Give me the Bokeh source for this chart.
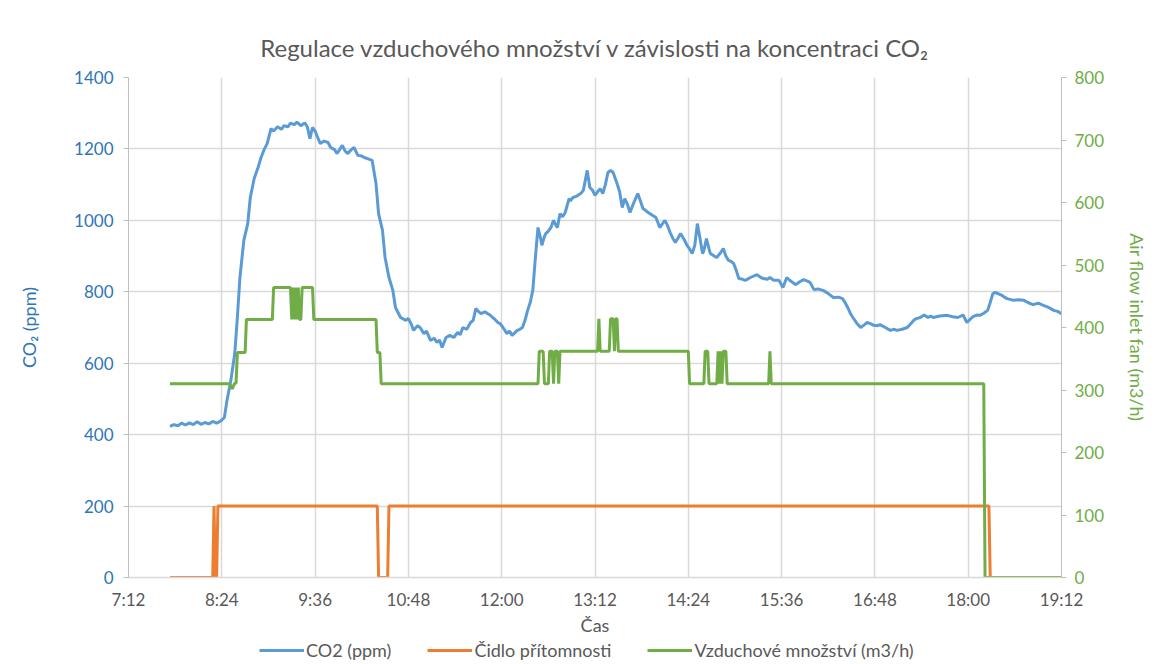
from bokeh.plotting import figure
from bokeh.models import Range1d, LinearAxis, FixedTicker, Legend, LegendItem
from bokeh.layouts import column
from bokeh.embed import file_html
from bokeh.resources import INLINE

# ---------------- data ----------------
title_text = "Regulace vzduchového množství v závislosti na koncentraci CO₂"
x_tick_minutes = [432, 504, 576, 648, 720, 792, 864, 936, 1008, 1080, 1152]
x_tick_labels = ["7:12", "8:24", "9:36", "10:48", "12:00", "13:12", "14:24",
                 "15:36", "16:48", "18:00", "19:12"]

# CO2 concentration (ppm), time in minutes after midnight
co2_minutes = [464, 467, 470, 473, 476, 479, 482, 485, 488, 491, 494, 497, 500, 503,
               506, 508, 511, 514, 516, 518, 521, 524, 526, 529, 532, 534, 537, 539,
               542, 544, 547, 550, 552, 555, 557, 560, 562, 565, 568, 570, 572, 574,
               576, 578, 580, 583, 586, 588, 591, 593, 597, 599, 601, 604, 606, 609,
               612, 614, 617, 620, 623, 625, 628, 630, 633, 636, 638, 642, 646, 648,
               650, 652, 655, 657, 660, 662, 665, 668, 670, 672, 674, 677, 680, 683,
               686, 688, 690, 693, 696, 698, 700, 702, 704, 707, 709, 711, 713, 715,
               717, 719, 721, 724, 726, 728, 730, 732, 734, 736, 738, 740, 742, 744,
               746, 748, 750, 751, 753, 754, 756, 758, 760, 762, 763, 765, 767, 769,
               772, 773, 775, 778, 781, 783, 786, 788, 790, 792, 794, 796, 798, 800,
               802, 804, 806, 809, 811, 813, 815, 817, 819, 822, 825, 827, 829, 831,
               833, 836, 839, 842, 844, 846, 848, 850, 852, 854, 856, 858, 861, 863,
               865, 867, 869, 871, 873, 875, 876, 878, 880, 881, 884, 886, 889, 891,
               893, 895, 897, 899, 901, 903, 906, 908, 912, 917, 920, 922, 925, 927,
               930, 934, 937, 940, 943, 947, 950, 953, 956, 958, 961, 964, 968, 972,
               976, 980, 983, 985, 987, 989, 991, 994, 997, 1000, 1002, 1005, 1007,
               1010, 1012, 1016, 1020, 1023, 1025, 1029, 1033, 1036, 1038, 1040, 1043,
               1046, 1049, 1051, 1053, 1058, 1064, 1068, 1072, 1076, 1079, 1082, 1084,
               1087, 1089, 1092, 1095, 1097, 1099, 1101, 1103, 1106, 1108, 1110, 1113,
               1115, 1119, 1123, 1126, 1130, 1134, 1138, 1141, 1144, 1146, 1149, 1152]
co2_ppm = [423, 428, 425, 432, 427, 433, 428, 436, 429, 434, 430, 437, 432, 438,
           448, 496, 552, 627, 728, 840, 944, 991, 1064, 1117, 1148, 1173, 1201, 1215,
           1257, 1250, 1262, 1255, 1265, 1262, 1272, 1268, 1275, 1265, 1273, 1262, 1229, 1260,
           1250, 1232, 1215, 1222, 1218, 1204, 1198, 1187, 1210, 1195, 1187, 1198, 1204, 1182,
           1180, 1176, 1172, 1168, 1103, 1019, 972, 896, 840, 804, 756, 728, 720, 725,
           711, 692, 705, 700, 683, 690, 664, 670, 658, 665, 644, 672, 678, 672,
           686, 680, 700, 695, 714, 720, 753, 745, 739, 744, 739, 735, 728, 722,
           714, 710, 700, 683, 690, 678, 685, 692, 695, 700, 720, 748, 770, 804,
           896, 980, 950, 930, 955, 963, 970, 980, 1000, 985, 980, 1019, 1010, 1022,
           1061, 1055, 1064, 1068, 1075, 1084, 1140, 1092, 1085, 1070, 1080, 1089, 1075, 1100,
           1134, 1140, 1134, 1103, 1080, 1036, 1061, 1045, 1022, 1050, 1075, 1055, 1033, 1028,
           1022, 1015, 1008, 980, 990, 1000, 985, 966, 950, 938, 950, 963, 945, 930,
           920, 907, 930, 991, 950, 907, 915, 949, 920, 907, 900, 896, 910, 921,
           900, 888, 885, 879, 860, 837, 835, 832, 840, 848, 840, 837, 835, 840,
           832, 832, 812, 840, 830, 820, 828, 834, 830, 826, 806, 808, 804, 795,
           784, 785, 781, 770, 756, 740, 728, 712, 700, 708, 714, 710, 706,
           705, 708, 700, 692, 695, 692, 695, 700, 712, 720, 725, 728,
           735, 728, 732, 728, 732, 734, 730, 728, 735, 714, 725, 731,
           735, 734, 740, 748, 770, 795, 798, 795, 790, 785, 781, 778,
           776, 778, 776, 770, 764, 768, 762, 758, 752, 748, 745, 739]

# presence sensor (left axis scale)
presence_minutes = [464, 497, 498, 499, 500, 501, 624, 625, 632, 633, 1096, 1097, 1152]
presence_value = [0, 0, 200, 0, 0, 200, 200, 0, 0, 200, 200, 0, 0]

# air flow (m3/h), right axis
air_minutes = [464, 510, 512, 514, 515, 516, 522, 523, 543, 544, 557, 558, 559, 560,
               561, 562, 563, 564, 565, 566, 574, 575, 623, 624, 626, 627, 748, 749,
               752, 753, 756, 757, 759, 760, 761, 763, 764, 765, 794, 795, 796, 803,
               804, 806, 807, 808, 809, 810, 864, 865, 876, 877, 879, 880, 886, 887,
               888, 889, 890, 891, 893, 894, 926, 927, 928, 1092, 1093, 1152]
air_flow = [310, 310, 302, 311, 311, 360, 360, 413, 413, 464, 464, 413, 464, 413,
            464, 413, 464, 413, 413, 464, 464, 413, 413, 360, 360, 310, 310, 362,
            362, 310, 310, 362, 362, 310, 362, 362, 310, 362, 362, 414, 362, 362,
            414, 414, 362, 414, 414, 362, 362, 310, 310, 362, 362, 310, 310, 362,
            310, 362, 310, 362, 362, 310, 310, 362, 310, 310, 0, 0]

legend_labels = ["CO2 (ppm)", "Čidlo přítomnosti", "Vzduchové množství (m3/h)"]

# ---------------- style ----------------
FONT = "Lato"
GREY = "#595959"
BLUE_TXT = "#2E75B6"
GREEN_TXT = "#70AD47"
C_BLUE = "#5B9BD5"
C_ORANGE = "#ED7D31"
C_GREEN = "#70AD47"
GRID = "#d9d9d9"

p = figure(width=1167, height=638, output_backend="svg", toolbar_location=None,
           x_range=Range1d(432, 1152), y_range=Range1d(0, 1400),
           min_border_left=128, min_border_right=106, min_border_top=77,
           min_border_bottom=61, background_fill_color="white",
           border_fill_color="white")
p.extra_y_ranges = {"air": Range1d(0, 800)}
p.outline_line_color = None

p.title.text = title_text
p.title.align = "center"
p.title.text_font = FONT
p.title.text_font_size = "24px"
p.title.text_font_style = "normal"
p.title.text_color = GREY
p.title.standoff = 31

r_co2 = p.line(co2_minutes, co2_ppm, line_color=C_BLUE, line_width=3)
r_pres = p.line(presence_minutes, presence_value, line_color=C_ORANGE, line_width=3)
r_air = p.line(air_minutes, air_flow, line_color=C_GREEN, line_width=3,
               y_range_name="air")

# x axis
xa = p.xaxis[0]
xa.ticker = FixedTicker(ticks=x_tick_minutes)
xa.major_label_overrides = {m: l for m, l in zip(x_tick_minutes, x_tick_labels)}
xa.axis_label = "Čas"
xa.axis_label_text_font = FONT
xa.axis_label_text_font_size = "18px"
xa.axis_label_text_font_style = "normal"
xa.axis_label_text_color = GREY
xa.axis_label_standoff = 1
xa.major_label_text_font = FONT
xa.major_label_text_font_size = "17px"
xa.major_label_text_color = GREY
xa.major_label_standoff = 5
xa.axis_line_color = GRID
xa.axis_line_width = 1.5
xa.major_tick_line_color = None
xa.minor_tick_line_color = None

# left axis
ya = p.yaxis[0]
ya.ticker = FixedTicker(ticks=[0, 200, 400, 600, 800, 1000, 1200, 1400])
ya.axis_label = "CO₂ (ppm)"
ya.axis_label_text_font = FONT
ya.axis_label_text_font_size = "18px"
ya.axis_label_text_font_style = "normal"
ya.axis_label_text_color = BLUE_TXT
ya.axis_label_standoff = 31
ya.major_label_text_font = FONT
ya.major_label_text_font_size = "17px"
ya.major_label_text_color = BLUE_TXT
ya.major_label_standoff = 10
ya.axis_line_color = "#bfbfbf"
ya.major_tick_line_color = "#bfbfbf"
ya.major_tick_out = 5
ya.major_tick_in = 0
ya.minor_tick_line_color = None

# right axis
ra = LinearAxis(y_range_name="air", ticker=FixedTicker(ticks=list(range(0, 801, 100))))
ra.axis_label = "Air flow inlet fan (m3/h)"
ra.axis_label_text_font = FONT
ra.axis_label_text_font_size = "18px"
ra.axis_label_text_font_style = "normal"
ra.axis_label_text_color = GREEN_TXT
ra.axis_label_standoff = 19
ra.major_label_text_font = FONT
ra.major_label_text_font_size = "17px"
ra.major_label_text_color = GREEN_TXT
ra.major_label_standoff = 8
ra.axis_line_color = "#bfbfbf"
ra.major_tick_line_color = "#bfbfbf"
ra.major_tick_out = 5
ra.major_tick_in = 0
ra.minor_tick_line_color = None
p.add_layout(ra, "right")

p.xgrid.grid_line_color = GRID
p.xgrid.grid_line_width = 1.5
p.ygrid.grid_line_color = GRID
p.ygrid.grid_line_width = 1.5

# legend strip below the chart (its frame is aligned with the chart frame)
lg = figure(width=1167, height=26, output_backend="svg", toolbar_location=None,
            x_range=Range1d(0, 1), y_range=Range1d(0, 1),
            min_border_left=0, min_border_right=0, min_border_top=0,
            min_border_bottom=0, background_fill_color="white",
            border_fill_color="white")
lg.axis.visible = False
lg.grid.visible = False
lg.outline_line_color = None
# legend swatches only: one off-range vertex each so the legend can draw them
g1 = lg.line([5], [5], line_color=C_BLUE, line_width=3)
g2 = lg.line([5], [5], line_color=C_ORANGE, line_width=3)
g3 = lg.line([5], [5], line_color=C_GREEN, line_width=3)
legend = Legend(items=[LegendItem(label=legend_labels[0], renderers=[g1]),
                       LegendItem(label=legend_labels[1], renderers=[g2]),
                       LegendItem(label=legend_labels[2], renderers=[g3])],
                location=(131, 3), orientation="horizontal")
legend.label_text_font = FONT
legend.label_text_font_size = "18px"
legend.label_text_color = GREY
legend.glyph_width = 45
legend.glyph_height = 18
legend.label_standoff = 2
legend.label_height = 18
legend.spacing = 36
legend.padding = 0
legend.margin = 0
legend.border_line_color = None
legend.background_fill_alpha = 0
lg.add_layout(legend, "center")

layout = column(p, lg, spacing=0)
open("out.html", "w").write(file_html(layout, INLINE))
